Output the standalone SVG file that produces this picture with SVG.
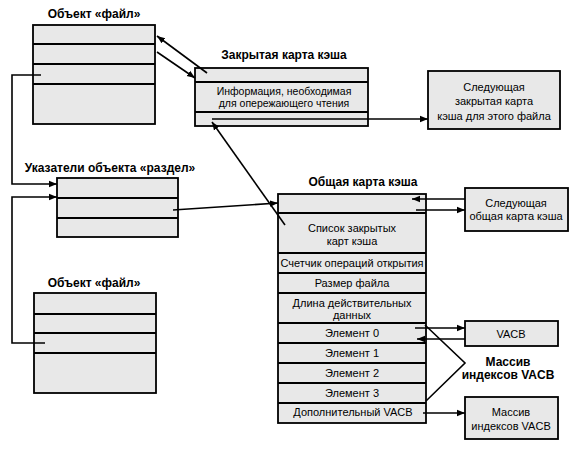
<svg xmlns="http://www.w3.org/2000/svg" width="570" height="469" viewBox="0 0 570 469">
<defs>
<marker id="ah" viewBox="0 0 10 10" refX="10" refY="5" markerWidth="8" markerHeight="8" markerUnits="userSpaceOnUse" orient="auto">
<path d="M0,1 L10,5 L0,9 Z" fill="#000"/>
</marker>
<style>
.box{fill:#e8e8e8;stroke:#000;stroke-width:1.8}
.div{stroke:#000;stroke-width:1.8;fill:none}
.ln{stroke:#000;stroke-width:1.6;fill:none}
.arr{stroke:#000;stroke-width:1.6;fill:none;marker-end:url(#ah)}
.t{font-family:"Liberation Sans",Arial,sans-serif;font-size:11px;text-anchor:middle;fill:#000}
.s{font-size:10.5px}
.h{font-family:"Liberation Sans",Arial,sans-serif;font-size:12px;font-weight:bold;text-anchor:middle;fill:#000}
</style>
</defs>
<rect width="570" height="469" fill="#fff"/>

<g id="file-object-top">
<text class="h" x="94" y="18">Объект «файл»</text>
<rect class="box" x="33" y="25" width="122" height="99"/>
<line class="div" x1="33" y1="44" x2="155" y2="44"/>
<line class="div" x1="33" y1="64" x2="155" y2="64"/>
<line class="div" x1="33" y1="84" x2="155" y2="84"/>
</g>

<g id="private-cache-map">
<text class="h" x="284" y="59">Закрытая карта кэша</text>
<rect class="box" x="195" y="68" width="173" height="58"/>
<line class="div" x1="195" y1="82" x2="368" y2="82"/>
<line class="div" x1="195" y1="112" x2="368" y2="112"/>
<text class="t s" x="284" y="95">Информация, необходимая</text>
<text class="t s" x="284" y="107">для опережающего чтения</text>
</g>

<g id="next-private-map">
<rect class="box" x="428" y="71" width="132" height="58"/>
<text class="t" x="494" y="91">Следующая</text>
<text class="t" x="494" y="105">закрытая карта</text>
<text class="t" x="494" y="120">кэша для этого файла</text>
</g>

<g id="section-pointers">
<text class="h" x="110" y="172">Указатели объекта «раздел»</text>
<rect class="box" x="57" y="178" width="121" height="59"/>
<line class="div" x1="57" y1="198" x2="178" y2="198"/>
<line class="div" x1="57" y1="218" x2="178" y2="218"/>
</g>

<g id="file-object-bottom">
<text class="h" x="94" y="287">Объект «файл»</text>
<rect class="box" x="34" y="293" width="122" height="100"/>
<line class="div" x1="34" y1="314" x2="156" y2="314"/>
<line class="div" x1="34" y1="333" x2="156" y2="333"/>
<line class="div" x1="34" y1="353" x2="156" y2="353"/>
</g>

<g id="shared-cache-map">
<text class="h" x="363" y="186">Общая карта кэша</text>
<rect class="box" x="278" y="194" width="148" height="229"/>
<line class="div" x1="278" y1="213" x2="426" y2="213"/>
<line class="div" x1="278" y1="253" x2="426" y2="253"/>
<line class="div" x1="278" y1="273" x2="426" y2="273"/>
<line class="div" x1="278" y1="293" x2="426" y2="293"/>
<line class="div" x1="278" y1="323" x2="426" y2="323"/>
<line class="div" x1="278" y1="343" x2="426" y2="343"/>
<line class="div" x1="278" y1="363" x2="426" y2="363"/>
<line class="div" x1="278" y1="383" x2="426" y2="383"/>
<line class="div" x1="278" y1="403" x2="426" y2="403"/>
<text class="t" x="352" y="232">Список закрытых</text>
<text class="t" x="352" y="245">карт кэша</text>
<text class="t" x="352" y="267">Счетчик операций открытия</text>
<text class="t" x="352" y="287">Размер файла</text>
<text class="t" x="352" y="307">Длина действительных</text>
<text class="t" x="352" y="319">данных</text>
<text class="t" x="352" y="337">Элемент 0</text>
<text class="t" x="352" y="357">Элемент 1</text>
<text class="t" x="352" y="377">Элемент 2</text>
<text class="t" x="352" y="397">Элемент 3</text>
<text class="t" x="353" y="416">Дополнительный VACB</text>
</g>

<g id="next-shared-map">
<rect class="box" x="465" y="188" width="103" height="43"/>
<text class="t" x="516" y="207">Следующая</text>
<text class="t" x="516" y="220">общая карта кэша</text>
</g>

<g id="vacb">
<rect class="box" x="465" y="321" width="93" height="25"/>
<text class="t" x="511" y="338">VACB</text>
</g>

<g id="vacb-index-array-label">
<text class="h" x="508" y="366">Массив</text>
<text class="h" x="508" y="379">индексов VACB</text>
</g>

<g id="vacb-index-array">
<rect class="box" x="465" y="397" width="93" height="42"/>
<text class="t" x="511" y="416">Массив</text>
<text class="t" x="511" y="430">индексов VACB</text>
</g>

<g id="connectors">
<line class="arr" x1="207" y1="73" x2="157" y2="36"/>
<line class="arr" x1="157" y1="52" x2="195" y2="78"/>
<line class="arr" x1="212" y1="119" x2="428" y2="119"/>
<polyline class="arr" points="41,75 12,75 12,184 57,184"/>
<polyline class="arr" points="45,343 12,343 12,197 57,197"/>
<line class="arr" x1="173" y1="210" x2="278" y2="203"/>
<line class="arr" x1="285" y1="225" x2="212" y2="122"/>
<line class="arr" x1="465" y1="199" x2="412" y2="199"/>
<line class="arr" x1="416" y1="210" x2="465" y2="210"/>
<line class="arr" x1="415" y1="328" x2="465" y2="328"/>
<line class="arr" x1="465" y1="339" x2="417" y2="339"/>
<polyline class="ln" points="425,325 465,363 426,401"/>
<line class="arr" x1="423" y1="413" x2="465" y2="413"/>
</g>
</svg>
